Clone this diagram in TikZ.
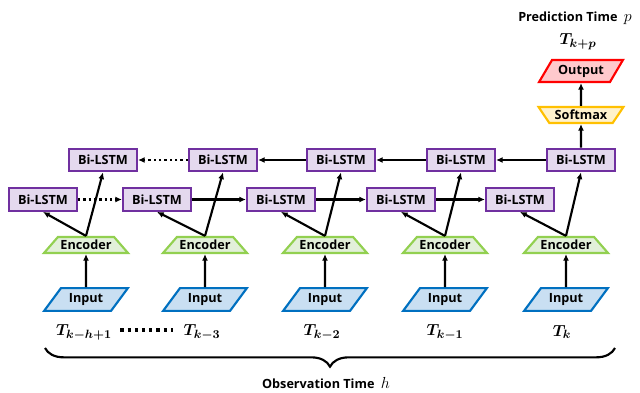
\documentclass[tikz,border=0pt]{standalone}
\usepackage{fontspec}
\usepackage{bm}
\setsansfont{Open Sans}
\DeclareMathSizes{12}{12}{9.5}{7}
\usetikzlibrary{arrows.meta,shapes.geometric,decorations.pathreplacing,calc}

\definecolor{lstmline}{HTML}{7030A0}
\definecolor{lstmfill}{HTML}{E4D9EE}
\definecolor{encline}{HTML}{92D050}
\definecolor{encfill}{HTML}{E2F0D9}
\definecolor{inline}{HTML}{0070C0}
\definecolor{infill}{HTML}{C9DFF2}
\definecolor{smline}{HTML}{FFC000}
\definecolor{smfill}{HTML}{FFF2CC}
\definecolor{outline}{HTML}{FF0000}
\definecolor{outfill}{HTML}{FFC9CC}

\begin{document}
\begin{tikzpicture}[x=0.75pt,y=-0.75pt,line width=1.6pt,
  >={Latex[length=5pt,width=4.5pt]},
  lbl/.style={font=\sffamily\bfseries\fontsize{9.5}{11}\selectfont},
  tlbl/.style={font=\fontsize{12}{14}\selectfont,inner sep=1pt},
  lstm/.style={lbl,draw=lstmline,fill=lstmfill,minimum width=51pt,minimum height=17pt,inner sep=1pt},
  enc/.style={lbl,trapezium,trapezium stretches=true,trapezium left angle=43,trapezium right angle=43,
    draw=encline,fill=encfill,minimum width=63pt,minimum height=12pt,inner sep=1pt},
  inbox/.style={lbl,trapezium,trapezium stretches=true,trapezium left angle=50,trapezium right angle=130,
    draw=inline,fill=infill,minimum width=63pt,minimum height=17pt,inner sep=1pt},
  smbox/.style={lbl,trapezium,trapezium stretches=true,trapezium left angle=127,trapezium right angle=127,
    draw=smline,fill=smfill,minimum width=64pt,minimum height=12pt,inner sep=1pt},
  outbox/.style={lbl,trapezium,trapezium stretches=true,trapezium left angle=54,trapezium right angle=126,
    draw=outline,fill=outfill,minimum width=63pt,minimum height=16.5pt,inner sep=1pt},
  dots/.style={dash pattern=on 1.6pt off 2.4pt}
]
\useasboundingbox (0,0) rectangle (640,393);

% one column per time step
\foreach \i/\xc/\xl/\xu/\xt/\tl in {1/86/43/103/84/{k-h+1},2/205/157/223/202/{k-3},3/325/281/341/322/{k-2},4/445/401/461/445/{k-1},5/566/520/581/562/k}{
	\node[inbox] (in\i) at (\xc,299.5) {Input};
	\node[enc] (enc\i) at (\xc,245) {Encoder};
	\node[lstm] (lo\i) at (\xl,199.5) {Bi-LSTM};
	\node[lstm] (up\i) at (\xu,160) {Bi-LSTM};
	\node[tlbl] (t\i) at (\xt,332) {$\bm{T_{\tl}}$};
	\draw[->] (in\i.north) -- (enc\i.south);
	\draw[->] (enc\i.north) -- (lo\i.south);
	\draw[->] (enc\i.north) -- (up\i.south);
}

% recurrent links
\draw[->,dots] (lo1) -- (lo2);
\foreach \i/\j in {2/3,3/4,4/5}{
	\draw[->] (lo\i) -- (lo\j);
}
\draw[->,dots] (up2) -- (up1);
\foreach \i/\j in {2/3,3/4,4/5}{
	\draw[->] (up\j) -- (up\i);
}

% prediction head
\node[smbox] (sm) at (581,115) {Softmax};
\node[outbox] (out) at (581,71) {Output};
\draw[->] (up5.north) -- (sm.south);
\draw[->] (sm.north) -- (out.south);

\node[tlbl] (tp) at (578,42) {$\bm{T_{k+p}}$};
\node[lbl] (pred) at (575,18) {Prediction Time\enspace{\fontsize{13}{13}\selectfont$p$}};

\draw[line width=2.4pt,dash pattern=on 2.4pt off 3pt] ($(t1.east)+(6,-2)$) -- ($(t2.west)+(-8,-2)$);

\draw[decorate,decoration={brace,mirror,amplitude=14pt}] (45,348) -- (615,348);
\node[lbl] (obs) at (326,383) {Observation Time\enspace{\fontsize{13}{13}\selectfont$h$}};

\end{tikzpicture}
\end{document}
